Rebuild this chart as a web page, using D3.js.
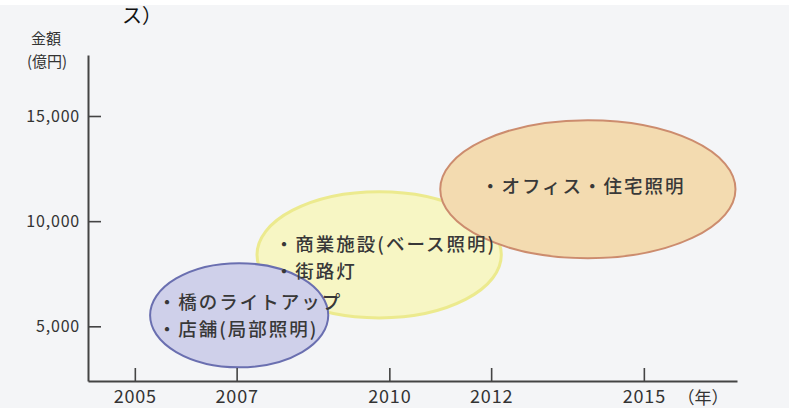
<!DOCTYPE html>
<html>
<head>
<meta charset="utf-8">
<script src="https://cdn.jsdelivr.net/npm/d3@7"></script>
<style>
  html, body { margin: 0; padding: 0; background: #ffffff; }
  svg { display: block; }
  text { font-family: "Noto Sans CJK JP", "Noto Sans", sans-serif; }
</style>
</head>
<body>
<svg id="chart" width="789" height="408"></svg>
<script>
// Market segments: year span and value range (億円) covered by each bubble
const segments = ["橋・店舗", "商業施設・街路灯", "オフィス・住宅"];
const yearStart = [2005.3, 2007.4, 2011.0];
const yearEnd   = [2008.8, 2012.2, 2016.8];
const valueLow  = [3050, 5400, 8240];
const valueHigh = [8000, 11400, 14800];
const segmentLines = [
  ["・橋のライトアップ", "・店舗(局部照明)"],
  ["・商業施設(ベース照明)", "・街路灯"],
  ["・オフィス・住宅照明"]
];
const fills   = ["#cfd0ea", "#f7f6c4", "#f3dbb0"];
const strokes = ["#6a6fb0", "#ecea8e", "#cc8c6e"];
// draw order: yellow below, then blue and orange on top
const drawOrder = [1, 0, 2];

const yearTicks  = [2005, 2007, 2010, 2012, 2015];
const valueTicks = [5000, 10000, 15000];

const svg = d3.select("#chart");
const W = 789, H = 408;

// page background
svg.append("rect").attr("x", 0).attr("y", 5).attr("width", W).attr("height", H - 5).attr("fill", "#f4f5f7");

// fragment of the heading above the figure
svg.append("text").attr("x", 122).attr("y", 23)
  .attr("font-size", 20).attr("fill", "#111").text("ス）");

const x = d3.scaleLinear().domain([2004.08, 2016.83]).range([88, 737]);
const y = d3.scaleLinear().domain([2400, 17900]).range([381, 55]);

// bubbles
const g = svg.append("g");
drawOrder.forEach(i => {
  const x0 = x(yearStart[i]), x1 = x(yearEnd[i]);
  const y0 = y(valueHigh[i]), y1 = y(valueLow[i]);
  g.append("ellipse")
    .attr("cx", (x0 + x1) / 2).attr("cy", (y0 + y1) / 2)
    .attr("rx", (x1 - x0) / 2).attr("ry", (y1 - y0) / 2)
    .attr("fill", fills[i]).attr("stroke", strokes[i])
    .attr("stroke-width", i === 1 ? 3 : 2);
});

// axes
const axisColor = "#444";
const yAxis = svg.append("g").attr("transform", `translate(${x.range()[0]},0)`)
  .call(d3.axisLeft(y).tickValues(valueTicks).tickSizeInner(-13).tickSizeOuter(0).tickPadding(8)
    .tickFormat(d3.format(",")));
const xAxis = svg.append("g").attr("transform", `translate(0,${y.range()[0]})`)
  .call(d3.axisBottom(x).tickValues(yearTicks).tickSizeInner(-13).tickSizeOuter(0).tickPadding(9)
    .tickFormat(d3.format("d")));
[yAxis, xAxis].forEach(a => {
  a.select(".domain").attr("stroke", axisColor).attr("stroke-width", 2);
  a.selectAll(".tick line").attr("stroke", axisColor).attr("stroke-width", 1.6);
  a.selectAll("text").attr("fill", "#333").attr("font-family", "\"Noto Sans CJK JP\", sans-serif");
});
yAxis.selectAll("text").attr("font-size", 16).attr("letter-spacing", 0.8).attr("dy", "0.35em");
xAxis.selectAll("text").attr("font-size", 18).attr("letter-spacing", 0.8);

// axis titles
svg.append("text").attr("x", 46).attr("y", 44).attr("text-anchor", "middle")
  .attr("font-size", 15).attr("fill", "#333").text("金額");
svg.append("text").attr("x", 47).attr("y", 67).attr("text-anchor", "middle")
  .attr("font-size", 15).attr("fill", "#333").text("(億円)");
svg.append("text").attr("x", 703).attr("y", 404).attr("text-anchor", "middle")
  .attr("font-size", 17).attr("fill", "#333").text("（年）");

// bubble labels, one text per line
const labelLeft = [2005.45, 2007.75, 2011.8];
const labelTop  = [8000 - 2180, 11400 - 2800, 14800 - 3450];
const lineGap = 27;
segments.forEach((s, i) => {
  segmentLines[i].forEach((line, k) => {
    svg.append("text")
      .attr("x", x(labelLeft[i])).attr("y", y(labelTop[i]) + k * lineGap)
      .attr("font-size", 18.5).attr("font-weight", 500).attr("letter-spacing", 2)
      .attr("fill", "#383838").text(line);
  });
});
</script>
</body>
</html>
